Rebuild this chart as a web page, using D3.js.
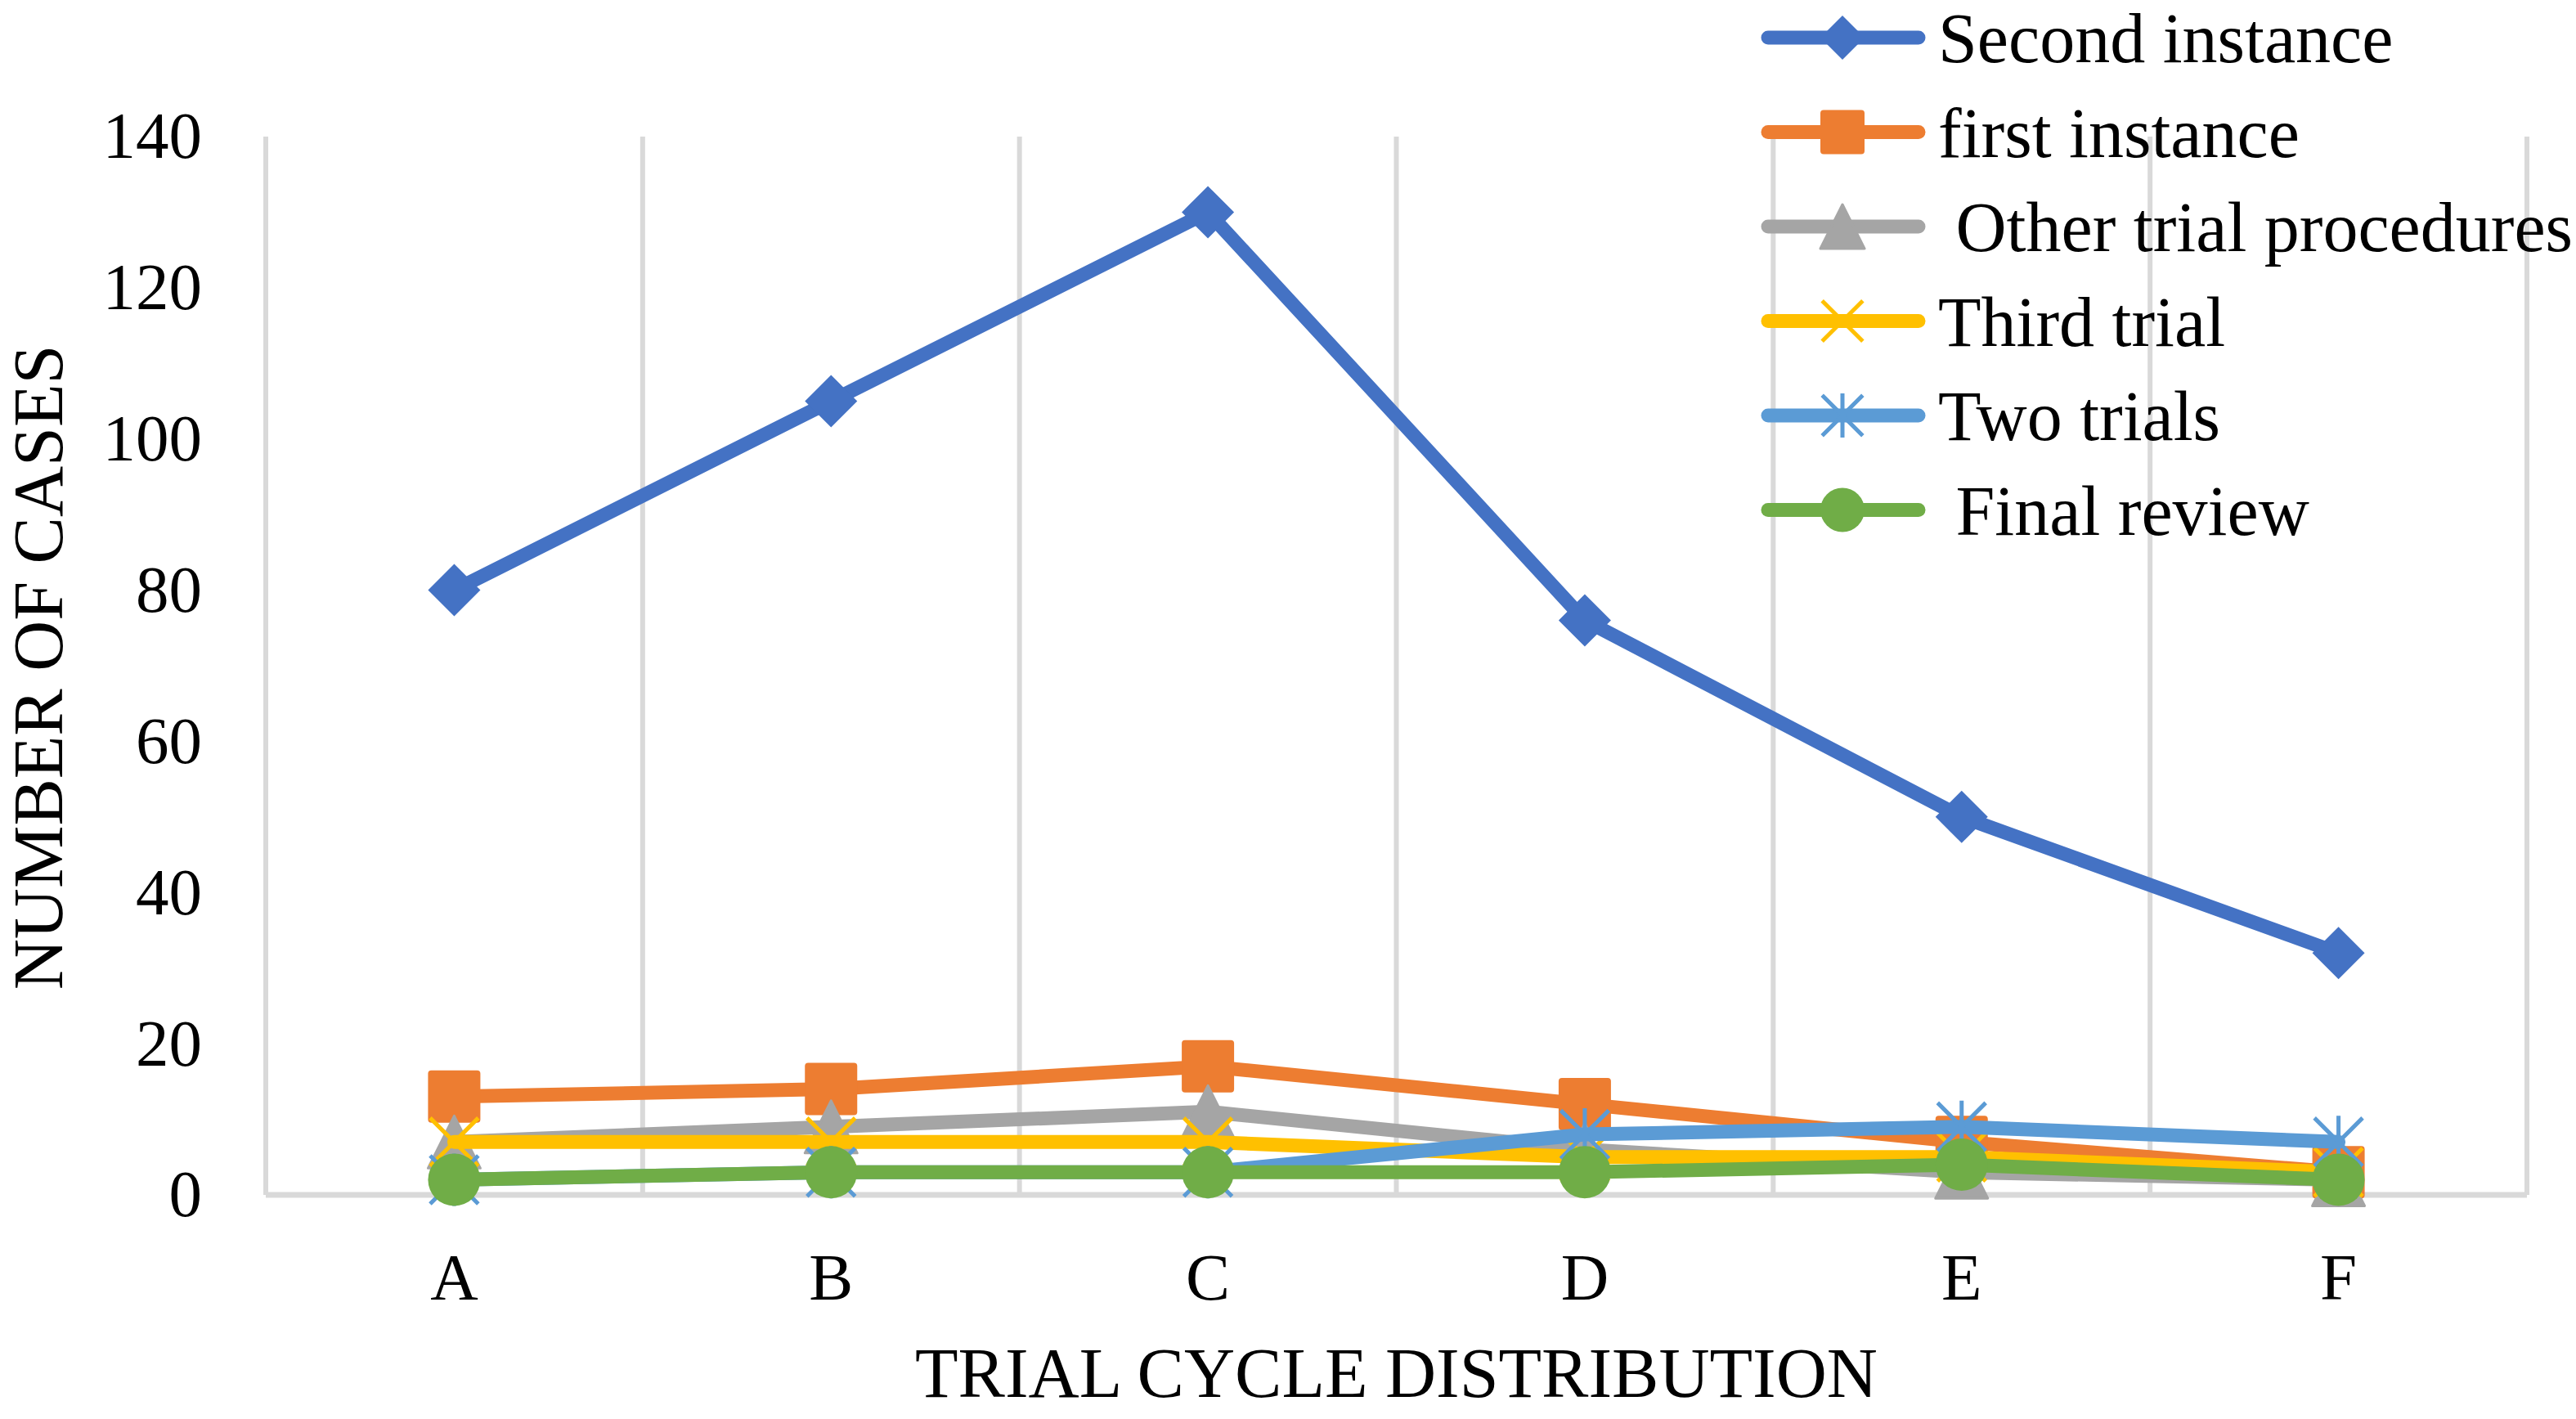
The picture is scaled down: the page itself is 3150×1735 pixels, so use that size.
<!DOCTYPE html>
<html lang="en">
<head>
    <meta charset="UTF-8">
    <title>Trial cycle distribution</title>
    <style>
        body { margin: 0; background: #fff; }
        text { font-family: "Liberation Serif", "Times New Roman", serif; fill: #000; }
    </style>
</head>
<body>
<script src="https://cdn.jsdelivr.net/npm/d3@7/dist/d3.min.js"></script>
<script>
    // data
    var categories = ["A", "B", "C", "D", "E", "F"];
    var secondInstance = [80, 105, 130, 76, 50, 32];
    var firstInstance = [13, 14, 17, 12, 7, 3];
    var otherProcedures = [7, 9, 11, 6, 3, 2];
    var thirdTrial = [7, 7, 7, 5, 5, 3];
    var twoTrials = [2, 3, 3, 8, 9, 7];
    var finalReview = [2, 3, 3, 3, 4, 2];
    var seriesNames = ["Second instance", "first instance", " Other trial procedures",
        "Third trial", "Two trials", " Final review"];
    var yTicks = [0, 20, 40, 60, 80, 100, 120, 140];

    var width = 3150;
    var height = 1735;

    var series = [
        {name: seriesNames[0], values: secondInstance, color: "#4472C4", marker: "diamond"},
        {name: seriesNames[1], values: firstInstance, color: "#ED7D31", marker: "square"},
        {name: seriesNames[2], values: otherProcedures, color: "#A5A5A5", marker: "triangle"},
        {name: seriesNames[3], values: thirdTrial, color: "#FFC000", marker: "x"},
        {name: seriesNames[4], values: twoTrials, color: "#5B9BD5", marker: "star"},
        {name: seriesNames[5], values: finalReview, color: "#70AD47", marker: "circle"}
    ];

    var svg = d3.select("body")
            .append("svg")
            .attr("width", width)
            .attr("height", height);

    var x = d3.scaleBand()
            .domain(categories)
            .range([325, 3090]);
    var y = d3.scaleLinear()
            .domain([0, 140])
            .range([1461, 167]);

    // vertical gridlines on the category boundaries
    var bounds = d3.range(categories.length + 1).map(function(i) {
        return x.range()[0] + i * x.step();
    });
    svg.append("g")
            .selectAll("line")
            .data(bounds)
            .enter()
            .append("line")
            .attr("x1", function(d) { return d; })
            .attr("x2", function(d) { return d; })
            .attr("y1", y(140))
            .attr("y2", y(0))
            .attr("stroke", "#d9d9d9")
            .attr("stroke-width", 6);

    svg.append("line")
            .attr("x1", x.range()[0])
            .attr("x2", x.range()[1])
            .attr("y1", y(0))
            .attr("y2", y(0))
            .attr("stroke", "#d9d9d9")
            .attr("stroke-width", 7);

    // axes
    var yAxis = svg.append("g")
            .attr("transform", "translate(" + x.range()[0] + ",0)")
            .call(d3.axisLeft(y).tickValues(yTicks).tickSize(0).tickPadding(78));
    yAxis.select(".domain").remove();
    yAxis.selectAll("text")
            .attr("font-family", "Liberation Serif")
            .attr("font-size", 81)
            .attr("fill", "#000");

    var xAxis = svg.append("g")
            .attr("transform", "translate(0," + y(0) + ")")
            .call(d3.axisBottom(x).tickSize(0).tickPadding(70));
    xAxis.select(".domain").remove();
    xAxis.selectAll("text")
            .attr("font-family", "Liberation Serif")
            .attr("font-size", 81)
            .attr("fill", "#000");

    svg.append("text")
            .attr("x", (x.range()[0] + x.range()[1]) / 2)
            .attr("y", 1708)
            .attr("text-anchor", "middle")
            .attr("font-size", 86)
            .text("TRIAL CYCLE DISTRIBUTION");

    svg.append("text")
            .attr("transform", "translate(76," + ((y(0) + y(140)) / 2 + 2) + ") rotate(-90)")
            .attr("text-anchor", "middle")
            .attr("font-size", 86)
            .text("NUMBER OF CASES");

    // marker drawing, size = full width
    function drawMarker(g, type, color, s) {
        var h = s / 2;
        if (type === "diamond") {
            g.append("path")
                    .attr("d", "M0," + (-h) + "L" + h + ",0L0," + h + "L" + (-h) + ",0Z")
                    .attr("fill", color);
        } else if (type === "square") {
            g.append("rect")
                    .attr("x", -h).attr("y", -h)
                    .attr("width", s).attr("height", s)
                    .attr("rx", 4)
                    .attr("fill", color);
        } else if (type === "triangle") {
            g.append("path")
                    .attr("d", "M0," + (-h) + "L" + h + "," + h + "L" + (-h) + "," + h + "Z")
                    .attr("fill", color)
                    .attr("stroke", color)
                    .attr("stroke-width", 3)
                    .attr("stroke-linejoin", "round");
        } else if (type === "circle") {
            g.append("circle")
                    .attr("r", h)
                    .attr("fill", color);
        } else {
            var k = h * 0.92;
            var d = "M" + (-k) + "," + (-k) + "L" + k + "," + k +
                    "M" + k + "," + (-k) + "L" + (-k) + "," + k;
            if (type === "star") d += "M0," + (-h) + "L0," + h;
            g.append("path")
                    .attr("d", d)
                    .attr("fill", "none")
                    .attr("stroke", color)
                    .attr("stroke-width", 5);
        }
    }

    var line = d3.line()
            .x(function(d, i) { return x(categories[i]) + x.bandwidth() / 2; })
            .y(function(d) { return y(d); });

    series.forEach(function(s) {
        var g = svg.append("g");
        g.append("path")
                .attr("d", line(s.values))
                .attr("fill", "none")
                .attr("stroke", s.color)
                .attr("stroke-width", 17)
                .attr("stroke-linejoin", "round")
                .attr("stroke-linecap", "round");
        g.selectAll("g.mk")
                .data(s.values)
                .enter()
                .append("g")
                .attr("class", "mk")
                .attr("transform", function(d, i) {
                    return "translate(" + (x(categories[i]) + x.bandwidth() / 2) + "," + y(d) + ")";
                })
                .each(function() { drawMarker(d3.select(this), s.marker, s.color, 64); });
    });

    // legend
    var legend = svg.append("g")
            .selectAll("g")
            .data(series)
            .enter()
            .append("g")
            .attr("transform", function(d, i) { return "translate(0," + (46 + i * 115.5) + ")"; });
    legend.append("line")
            .attr("x1", 2162).attr("x2", 2346)
            .attr("y1", 0).attr("y2", 0)
            .attr("stroke", function(d) { return d.color; })
            .attr("stroke-width", 17)
            .attr("stroke-linecap", "round");
    legend.append("g")
            .attr("transform", "translate(2253,0)")
            .each(function(d) { drawMarker(d3.select(this), d.marker, d.color, 54); });
    legend.append("text")
            .attr("x", 2370)
            .attr("dy", "0.35em")
            .attr("font-size", 86)
            .attr("xml:space", "preserve")
            .style("white-space", "pre")
            .text(function(d) { return d.name; });
</script>
</body>
</html>
